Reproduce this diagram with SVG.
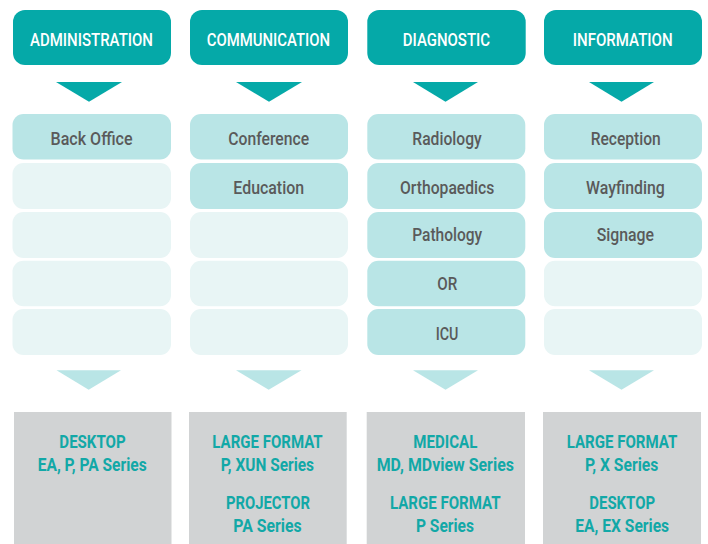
<svg xmlns="http://www.w3.org/2000/svg" width="708" height="544" viewBox="0 0 708 544">
<style>
.hdr{fill:#05a9a8}
.on{fill:#b9e5e6}
.off{fill:#e8f5f5}
.gray{fill:#d1d3d4}
.tri1{fill:#05a9a8}
.tri2{fill:#b9e5e6}
text{font-family:Roboto,"Liberation Sans",Arial,sans-serif;text-anchor:middle}
.ht{fill:#ffffff;font-size:17.5px;font-weight:500}
.st{fill:#5a5a5a;font-size:18.5px;font-weight:500}
.gt{fill:#12a8a7;font-size:18.5px;font-weight:700}
</style>
<rect width="708" height="544" fill="#ffffff"/>
<g id="col-administration">
<g id="hdr-administration"><rect class="hdr" x="13" y="10" width="158" height="55" rx="12"/><text class="ht" x="91.5" y="46" textLength="123" lengthAdjust="spacingAndGlyphs">ADMINISTRATION</text></g>
<g id="admin-1"><rect class="on" x="12.5" y="114" width="158.5" height="45.5" rx="11"/><text class="st" x="91.5" y="145" textLength="82" lengthAdjust="spacingAndGlyphs">Back Office</text></g>
<g id="admin-2"><rect class="off" x="12.5" y="163" width="158.5" height="46" rx="11"/></g>
<g id="admin-3"><rect class="off" x="12.5" y="212" width="158.5" height="46" rx="11"/></g>
<g id="admin-4"><rect class="off" x="12.5" y="260.7" width="158.5" height="45.5" rx="11"/></g>
<g id="admin-5"><rect class="off" x="12.5" y="309" width="158.5" height="46" rx="11"/></g>
<g id="out-administration"><rect class="gray" x="14" y="412" width="157.5" height="132"/>
<text class="gt" x="92.5" y="448.3" textLength="66.3" lengthAdjust="spacingAndGlyphs">DESKTOP</text>
<text class="gt" x="92.2" y="470.7" textLength="109" lengthAdjust="spacingAndGlyphs">EA, P, PA Series</text></g>
</g>
<g id="col-communication">
<g id="hdr-communication"><rect class="hdr" x="190" y="10" width="158" height="55" rx="12"/><text class="ht" x="268.4" y="46" textLength="123.3" lengthAdjust="spacingAndGlyphs">COMMUNICATION</text></g>
<g id="comm-1"><rect class="on" x="190" y="114" width="158" height="45.5" rx="11"/><text class="st" x="268.7" y="145" textLength="80.7" lengthAdjust="spacingAndGlyphs">Conference</text></g>
<g id="comm-2"><rect class="on" x="190" y="163" width="158" height="46" rx="11"/><text class="st" x="268.7" y="193.7" textLength="70.7" lengthAdjust="spacingAndGlyphs">Education</text></g>
<g id="comm-3"><rect class="off" x="190" y="212" width="158" height="46" rx="11"/></g>
<g id="comm-4"><rect class="off" x="190" y="260.7" width="158" height="45.5" rx="11"/></g>
<g id="comm-5"><rect class="off" x="190" y="309" width="158" height="46" rx="11"/></g>
<g id="out-communication"><rect class="gray" x="189" y="412" width="157.7" height="132"/>
<text class="gt" x="267.5" y="448.3" textLength="110.3" lengthAdjust="spacingAndGlyphs">LARGE FORMAT</text>
<text class="gt" x="267.4" y="470.7" textLength="93.3" lengthAdjust="spacingAndGlyphs">P, XUN Series</text>
<text class="gt" x="268" y="509" textLength="84" lengthAdjust="spacingAndGlyphs">PROJECTOR</text>
<text class="gt" x="267.5" y="531.7" textLength="68.3" lengthAdjust="spacingAndGlyphs">PA Series</text></g>
</g>
<g id="col-diagnostic">
<g id="hdr-diagnostic"><rect class="hdr" x="367.3" y="10" width="158.4" height="55" rx="12"/><text class="ht" x="446.4" y="46" textLength="87.3" lengthAdjust="spacingAndGlyphs">DIAGNOSTIC</text></g>
<g id="diag-1"><rect class="on" x="367.3" y="114" width="158" height="45.5" rx="11"/><text class="st" x="447" y="145" textLength="69.4" lengthAdjust="spacingAndGlyphs">Radiology</text></g>
<g id="diag-2"><rect class="on" x="367.3" y="163" width="158" height="46" rx="11"/><text class="st" x="447.2" y="193.7" textLength="94.3" lengthAdjust="spacingAndGlyphs">Orthopaedics</text></g>
<g id="diag-3"><rect class="on" x="367.3" y="212" width="158" height="46" rx="11"/><text class="st" x="447.2" y="240.7" textLength="70" lengthAdjust="spacingAndGlyphs">Pathology</text></g>
<g id="diag-4"><rect class="on" x="367.3" y="260.7" width="158" height="45.5" rx="11"/><text class="st" x="447.3" y="290" textLength="20" lengthAdjust="spacingAndGlyphs">OR</text></g>
<g id="diag-5"><rect class="on" x="367.3" y="309" width="158" height="46" rx="11"/><text class="st" x="447" y="340" textLength="22.7" lengthAdjust="spacingAndGlyphs">ICU</text></g>
<g id="out-diagnostic"><rect class="gray" x="366.7" y="412" width="158.3" height="132"/>
<text class="gt" x="445.3" y="448.3" textLength="64" lengthAdjust="spacingAndGlyphs">MEDICAL</text>
<text class="gt" x="445.3" y="470.7" textLength="137.3" lengthAdjust="spacingAndGlyphs">MD, MDview Series</text>
<text class="gt" x="445.3" y="509" textLength="110.7" lengthAdjust="spacingAndGlyphs">LARGE FORMAT</text>
<text class="gt" x="445" y="531.7" textLength="58" lengthAdjust="spacingAndGlyphs">P Series</text></g>
</g>
<g id="col-information">
<g id="hdr-information"><rect class="hdr" x="544" y="10" width="158" height="55" rx="12"/><text class="ht" x="622.7" y="46" textLength="100" lengthAdjust="spacingAndGlyphs">INFORMATION</text></g>
<g id="info-1"><rect class="on" x="544" y="114" width="158" height="45.5" rx="11"/><text class="st" x="625.7" y="145" textLength="70" lengthAdjust="spacingAndGlyphs">Reception</text></g>
<g id="info-2"><rect class="on" x="544" y="163" width="158" height="46" rx="11"/><text class="st" x="625.4" y="193.7" textLength="78.7" lengthAdjust="spacingAndGlyphs">Wayfinding</text></g>
<g id="info-3"><rect class="on" x="544" y="212" width="158" height="46" rx="11"/><text class="st" x="625.4" y="240.7" textLength="57.3" lengthAdjust="spacingAndGlyphs">Signage</text></g>
<g id="info-4"><rect class="off" x="544" y="260.7" width="158" height="45.5" rx="11"/></g>
<g id="info-5"><rect class="off" x="544" y="309" width="158" height="46" rx="11"/></g>
<g id="out-information"><rect class="gray" x="543" y="412" width="158" height="132"/>
<text class="gt" x="622" y="448.3" textLength="110.7" lengthAdjust="spacingAndGlyphs">LARGE FORMAT</text>
<text class="gt" x="621.7" y="470.7" textLength="73.3" lengthAdjust="spacingAndGlyphs">P, X Series</text>
<text class="gt" x="622.2" y="509" textLength="65.7" lengthAdjust="spacingAndGlyphs">DESKTOP</text>
<text class="gt" x="622.2" y="531.7" textLength="93.7" lengthAdjust="spacingAndGlyphs">EA, EX Series</text></g>
</g>
<g id="connectors">
<polygon class="tri1" points="56,82 122,82 89,101.7"/>
<polygon class="tri1" points="236,82 302,82 269,101.7"/>
<polygon class="tri1" points="413,82 478,82 445.5,101.7"/>
<polygon class="tri1" points="589,82 654,82 621.5,101.7"/>
<polygon class="tri2" points="56.5,370.3 121,370.3 88.7,389.7"/>
<polygon class="tri2" points="236,370.3 301.5,370.3 268.7,389.7"/>
<polygon class="tri2" points="413,370.3 478,370.3 445.5,389.7"/>
<polygon class="tri2" points="589,370.3 654,370.3 621.5,389.7"/>
</g>
</svg>
